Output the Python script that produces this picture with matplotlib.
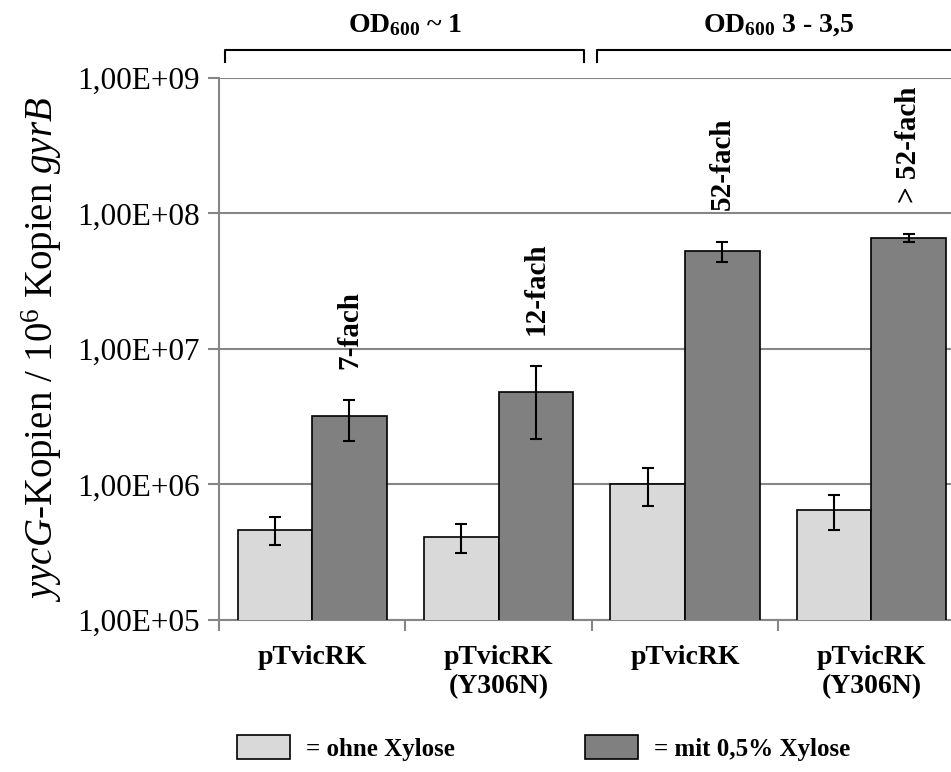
import numpy as np
import matplotlib
matplotlib.use('Agg')
import matplotlib.pyplot as plt
from matplotlib.patches import Patch

plt.rcParams['font.family'] = ['Liberation Serif', 'DejaVu Serif']
plt.rcParams['mathtext.fontset'] = 'custom'
plt.rcParams['mathtext.rm'] = 'Liberation Serif'
plt.rcParams['mathtext.it'] = 'Liberation Serif:italic'
plt.rcParams['mathtext.bf'] = 'Liberation Serif:bold'

# data
categories = ['pTvicRK', 'pTvicRK\n(Y306N)', 'pTvicRK', 'pTvicRK\n(Y306N)']
ohne = [4.6e5, 4.1e5, 1.01e6, 6.5e5]
ohne_lo = [3.6e5, 3.1e5, 6.9e5, 4.6e5]
ohne_hi = [5.75e5, 5.1e5, 1.33e6, 8.4e5]
mit = [3.2e6, 4.8e6, 5.3e7, 6.6e7]
mit_lo = [2.1e6, 2.15e6, 4.4e7, 6.2e7]
mit_hi = [4.2e6, 7.5e6, 6.2e7, 7.06e7]
fach = ['7-fach', '12-fach', '52-fach', '> 52-fach']
groups = ['OD$_{\\mathbf{600}}$ ~ 1', 'OD$_{\\mathbf{600}}$ 3 - 3,5']
yticks = [1e5, 1e6, 1e7, 1e8, 1e9]
ytick_labels = ['1,00E+05', '1,00E+06', '1,00E+07', '1,00E+08', '1,00E+09']

light = '#d9d9d9'
dark = '#808080'
grey = '#868686'

fig = plt.figure(figsize=(9.51, 7.72), dpi=100)
ax = fig.add_axes([0.2303, 0.1969, 0.784, 0.7021])

x = np.arange(len(categories))
w = 0.4
ohne = np.array(ohne)
mit = np.array(mit)
err1 = [ohne - np.array(ohne_lo), np.array(ohne_hi) - ohne]
err2 = [mit - np.array(mit_lo), np.array(mit_hi) - mit]

ax.set_yscale('log')
ax.set_ylim(1e5, 1e9)
ax.set_xlim(-0.5, len(categories) - 0.5)

ax.bar(x - w / 2, ohne, w, bottom=0, color=light, edgecolor='black', linewidth=1.2, zorder=3)
ax.bar(x + w / 2, mit, w, bottom=0, color=dark, edgecolor='black', linewidth=1.2, zorder=3)
ax.errorbar(x - w / 2, ohne, yerr=err1, fmt='none', ecolor='black', elinewidth=1.5,
            capsize=4, capthick=1.5, zorder=4)
ax.errorbar(x + w / 2, mit, yerr=err2, fmt='none', ecolor='black', elinewidth=1.5,
            capsize=4, capthick=1.5, zorder=4)

for i, t in enumerate(fach):
    ax.text(x[i] + w / 2, mit_hi[i] * 1.7, t, rotation=90, ha='center', va='bottom',
            fontsize=21, fontweight='bold', zorder=5)

ax.set_yticks(yticks)
ax.set_yticklabels(ytick_labels, fontsize=22.5)
ax.yaxis.set_minor_locator(matplotlib.ticker.NullLocator())
ax.grid(axis='y', color=grey, linewidth=1.5, zorder=0)

ax.set_xticks(np.arange(len(categories) + 1) - 0.5)
ax.set_xticklabels([])
ax.set_xticks(x, minor=True)
ax.set_xticklabels(categories, minor=True, fontsize=20, fontweight='bold')
ax.tick_params(axis='x', which='minor', length=0, pad=18)
ax.tick_params(axis='x', which='major', length=8, width=1.5, color=grey)
ax.tick_params(axis='y', length=8, width=1.5, color=grey, pad=6)

for s in ['top', 'right']:
    ax.spines[s].set_visible(False)
for s in ['left', 'bottom']:
    ax.spines[s].set_color(grey)
    ax.spines[s].set_linewidth(1.5)

ax.set_ylabel('$\\mathit{yycG}$-Kopien / 10$^6$ Kopien $\\mathit{gyrB}$', fontsize=28, labelpad=9)

# brackets on top
tr = ax.get_xaxis_transform()
spans = [(-0.47, 1.46), (1.53, 3.6)]
for a, b in spans:
    ax.plot([a, a, b, b], [1.030, 1.052, 1.052, 1.030], color='black', linewidth=1.5,
            transform=tr, clip_on=False)
ax.text(0.5, 1.097, groups[0], transform=tr, ha='center', va='center', fontsize=20, fontweight='bold')
ax.text(2.5, 1.097, groups[1], transform=tr, ha='center', va='center', fontsize=20, fontweight='bold')

handles = [Patch(facecolor=light, edgecolor='black', linewidth=1.2),
           Patch(facecolor=dark, edgecolor='black', linewidth=1.2)]
fig.legend(handles, ['= ohne Xylose', '= mit 0,5% Xylose'], ncol=2, frameon=False,
           loc='center left', bbox_to_anchor=(0.226, 0.031), handlelength=2.1, handleheight=1.1,
           columnspacing=5.2, handletextpad=0.65, prop={'weight': 'bold', 'size': 18})

fig.savefig('out.png', dpi=100)
